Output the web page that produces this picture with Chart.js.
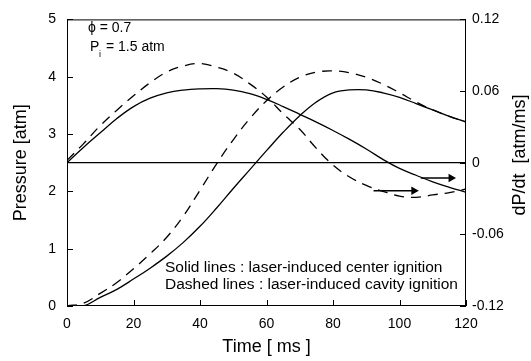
<!DOCTYPE html>
<html>
<head>
<meta charset="utf-8">
<script src="https://cdn.jsdelivr.net/npm/chart.js@4.4.1/dist/chart.umd.min.js"></script>
<style>
  html, body { margin: 0; padding: 0; background: #fff; }
  #wrap { width: 531px; height: 361px; }
</style>
</head>
<body>
<div id="wrap"><canvas id="mycanvas" width="531" height="361"></canvas></div>
<script>
// time axis [ms]
var times = [0, 5, 10, 15, 20, 25, 30, 35, 40, 45, 50, 55, 60, 65, 70, 75, 80, 85, 90, 95, 100, 105, 110, 115, 120];

// pressure [atm] (left axis)
var solidPressure  = [0, 0.0, 0.15, 0.29, 0.47, 0.66, 0.87, 1.11, 1.39, 1.71, 2.05, 2.38, 2.71, 3.03, 3.32, 3.56, 3.72, 3.77, 3.77, 3.72, 3.64, 3.53, 3.42, 3.31, 3.21];
var dashedPressure = [0, 0.05, 0.22, 0.41, 0.65, 0.91, 1.2, 1.57, 2.02, 2.48, 2.9, 3.27, 3.58, 3.82, 3.99, 4.08, 4.1, 4.07, 3.99, 3.87, 3.72, 3.56, 3.42, 3.31, 3.21];

// dP/dt [atm/ms] (right axis)
var solidRate  = [0, 0.013, 0.025, 0.037, 0.047, 0.054, 0.0585, 0.0608, 0.0618, 0.062, 0.0608, 0.0578, 0.053, 0.047, 0.0405, 0.034, 0.027, 0.0195, 0.0115, 0.0028, -0.0048, -0.0105, -0.016, -0.0206, -0.0248];
var dashedRate = [0.002, 0.016, 0.031, 0.044, 0.056, 0.067, 0.076, 0.081, 0.083, 0.080, 0.075, 0.066, 0.055, 0.041, 0.028, 0.012, -0.002, -0.012, -0.019, -0.024, -0.028, -0.029, -0.027, -0.025, -0.022];

// arrows pointing to the right axis
var arrowLowT = [92.2, 104.3];
var arrowLowY = [-0.0235, -0.0235];
var arrowHighT = [106.4, 115.5];
var arrowHighY = [-0.0128, -0.0128];

// ticks
var xTicks = [0, 20, 40, 60, 80, 100, 120];
var pressureTicks = [0, 1, 2, 3, 4, 5];
var rateTicks = [-0.12, -0.06, 0, 0.06, 0.12];

function pts(xs, ys) {
  var out = [];
  for (var i in xs) {
    out.push({x: xs[i], y: ys[i]});
  }
  return out;
}

var FONT = "Arial, 'Liberation Sans', sans-serif";

function lineSet(data, axis, dashed) {
  return {
    data: data,
    yAxisID: axis,
    borderColor: '#000',
    borderWidth: 1.3,
    borderDash: dashed ? [10, 7] : [],
    pointRadius: 0,
    fill: false,
    tension: 0.4
  };
}

function arrowSet(xs, ys) {
  return {
    data: pts(xs, ys),
    yAxisID: 'y1',
    borderColor: '#000',
    backgroundColor: '#000',
    borderWidth: 1.3,
    pointStyle: 'triangle',
    rotation: 90,
    pointRadius: [0, 5],
    pointBorderWidth: 0
  };
}

var frame = {
  id: 'frame',
  afterDraw: function(chart) {
    var ctx = chart.ctx;
    var a = chart.chartArea;
    ctx.save();
    ctx.strokeStyle = '#000';
    ctx.lineWidth = 1;
    ctx.strokeRect(a.left + 0.5, a.top + 0.5, a.right - a.left - 1, a.bottom - a.top - 1);

    // inward ticks
    var len = 6;
    ctx.beginPath();
    chart.scales.x.ticks.forEach(function(t) {
      var px = Math.round(chart.scales.x.getPixelForValue(t.value)) + 0.5;
      ctx.moveTo(px, a.bottom); ctx.lineTo(px, a.bottom - len);
    });
    chart.scales.y.ticks.forEach(function(t) {
      var py = Math.round(chart.scales.y.getPixelForValue(t.value)) + 0.5;
      ctx.moveTo(a.left, py); ctx.lineTo(a.left + len, py);
    });
    chart.scales.y1.ticks.forEach(function(t) {
      var py = Math.round(chart.scales.y1.getPixelForValue(t.value)) + 0.5;
      ctx.moveTo(a.right, py); ctx.lineTo(a.right - len, py);
    });
    ctx.stroke();

    // annotations
    ctx.fillStyle = '#000';
    ctx.textBaseline = 'middle';
    ctx.textAlign = 'left';
    ctx.font = '14px ' + FONT;
    ctx.fillText('\u03D5 = 0.7', 88, 28);
    ctx.fillText('P', 90, 47);
    ctx.fillText('= 1.5 atm', 106, 47);
    ctx.font = '9px ' + FONT;
    ctx.fillText('i', 99, 55);

    ctx.font = '15.5px ' + FONT;
    ctx.fillText('Solid lines : laser-induced center ignition', 165, 268);
    ctx.fillText('Dashed lines : laser-induced cavity ignition', 165, 285);

    // right axis title, reading bottom to top
    ctx.save();
    ctx.translate(520, 155);
    ctx.rotate(-Math.PI / 2);
    ctx.textAlign = 'center';
    ctx.font = '18px ' + FONT;
    ctx.fillText('dP/dt  [atm/ms]', 0, 0);
    ctx.restore();
    ctx.restore();
  }
};

var ctx = document.getElementById('mycanvas');

var chart = new Chart(ctx, {
  type: 'line',
  data: {
    datasets: [
      lineSet(pts(times, solidPressure), 'y', false),
      lineSet(pts(times, dashedPressure), 'y', true),
      lineSet(pts(times, solidRate), 'y1', false),
      lineSet(pts(times, dashedRate), 'y1', true),
      lineSet(pts([0, 120], [0, 0]), 'y1', false),
      arrowSet(arrowLowT, arrowLowY),
      arrowSet(arrowHighT, arrowHighY)
    ]
  },
  options: {
    responsive: false,
    animation: false,
    events: [],
    layout: { padding: { top: 15, left: 0, right: 0, bottom: 0 } },
    plugins: {
      legend: { display: false },
      tooltip: { enabled: false }
    },
    scales: {
      x: {
        type: 'linear',
        min: 0,
        max: 120,
        afterBuildTicks: function(s) { s.ticks = xTicks.map(function(v) { return {value: v}; }); },
        afterFit: function(s) { s.height = 55; },
        grid: { display: false, drawTicks: false },
        border: { display: false },
        ticks: { color: '#000', padding: 10, maxRotation: 0, font: { size: 14, family: FONT } },
        title: { display: true, text: 'Time [ ms ]', color: '#000', padding: { top: 0, bottom: 3 }, font: { size: 18, family: FONT } }
      },
      y: {
        position: 'left',
        min: 0,
        max: 5,
        afterBuildTicks: function(s) { s.ticks = pressureTicks.map(function(v) { return {value: v}; }); },
        afterFit: function(s) { s.width = 67; },
        grid: { display: false, drawTicks: false },
        border: { display: false },
        ticks: { color: '#000', padding: 11, font: { size: 14, family: FONT } },
        title: { display: true, text: 'Pressure [atm]', color: '#000', padding: { top: 10, bottom: 0 }, font: { size: 18, family: FONT } }
      },
      y1: {
        position: 'right',
        min: -0.12,
        max: 0.12,
        afterBuildTicks: function(s) { s.ticks = rateTicks.map(function(v) { return {value: v}; }); },
        afterFit: function(s) { s.width = 65; },
        grid: { display: false, drawTicks: false },
        border: { display: false },
        ticks: {
          color: '#000',
          padding: 6,
          font: { size: 14, family: FONT },
          callback: function(v) { return v === 0 ? '0' : v.toFixed(2); }
        }
      }
    }
  },
  plugins: [frame]
});
</script>
</body>
</html>
